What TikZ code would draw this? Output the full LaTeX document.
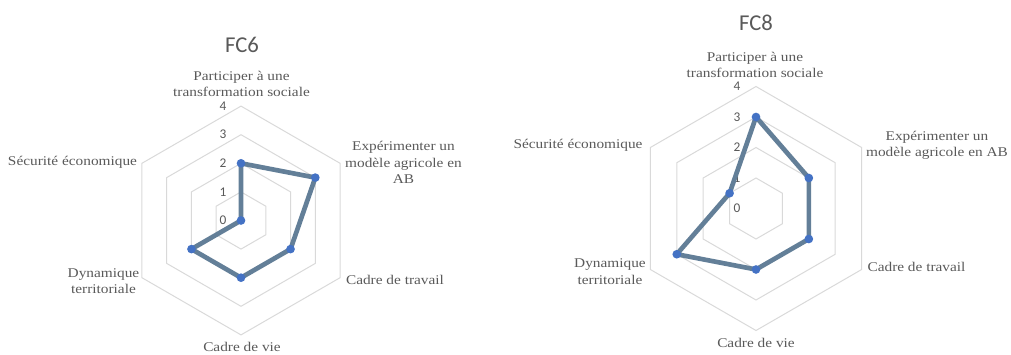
\documentclass[tikz,border=0pt]{standalone}
\usepackage{fontspec}
\setmainfont{Liberation Serif}
\newfontfamily\labfont[FakeStretch=1.15]{Liberation Serif}
\newfontfamily\numfont{Carlito}
\usetikzlibrary{positioning}

\definecolor{gridgray}{HTML}{D9D9D9}
\definecolor{labgray}{HTML}{595959}
\definecolor{seriesline}{HTML}{637F98}
\definecolor{dotblue}{HTML}{4472C4}

\tikzset{
  grid/.style={draw=gridgray, line width=0.75pt},
  serie/.style={draw=seriesline, line width=3.5pt, line join=round},
  dot/.style={circle, fill=dotblue, inner sep=0pt, minimum size=6.5pt},
  axislab/.style={font=\labfont\fontsize{10}{12.4}\selectfont, text=labgray, align=center, inner sep=0pt},
  scalelab/.style={font=\numfont\fontsize{10}{12}\selectfont, text=labgray, inner sep=0pt},
  charttitle/.style={font=\numfont\fontsize{17}{20}\selectfont, text=labgray, inner sep=0pt}
}

\begin{document}
\begin{tikzpicture}[x=0.75pt,y=0.75pt]
\useasboundingbox (0,0) rectangle (1011,354);

% FC6
\begin{scope}[shift={(241,133.5)}]
\foreach \r in {1,...,4}
  \draw[grid] (90:{28.6*\r}) -- (30:{28.6*\r}) -- (-30:{28.6*\r}) -- (-90:{28.6*\r})
    -- (-150:{28.6*\r}) -- (150:{28.6*\r}) -- cycle;
\foreach \r in {0,...,4}
  \node[scalelab] (s6\r) at (-18,{28.6*\r}) {\r};
\foreach \a/\v [count=\i] in {90/2,30/3,-30/2,-90/2,-150/2,150/0}
  \coordinate (p6\i) at (\a:{28.6*\v});
\draw[serie] (p61) -- (p62) -- (p63) -- (p64) -- (p65) -- (p66) -- cycle;
\foreach \i in {1,...,6}
  \node[dot] (d6\i) at (p6\i) {};
\end{scope}
\node[charttitle] (t6) at (242,309.5) {FC6};
\node[axislab] (a61) at (241.5,270) {Participer à une\\transformation sociale};
\node[axislab] (a62) at (403.5,191.5) {Expérimenter un\\modèle agricole en\\AB};
\node[axislab] (a63) at (395,74) {Cadre de travail};
\node[axislab] (a64) at (242,7) {Cadre de vie};
\node[axislab] (a65) at (103.5,73) {Dynamique\\territoriale};
\node[axislab] (a66) at (72.5,192) {Sécurité économique};

% FC8
\begin{scope}[shift={(756,145.5)}]
\foreach \r in {1,...,4}
  \draw[grid] (90:{30.5*\r}) -- (30:{30.5*\r}) -- (-30:{30.5*\r}) -- (-90:{30.5*\r})
    -- (-150:{30.5*\r}) -- (150:{30.5*\r}) -- cycle;
\foreach \r in {0,...,4}
  \node[scalelab] (s8\r) at (-19,{30.5*\r}) {\r};
\foreach \a/\v [count=\i] in {90/3,30/2,-30/2,-90/2,-150/3,150/1}
  \coordinate (p8\i) at (\a:{30.5*\v});
\draw[serie] (p81) -- (p82) -- (p83) -- (p84) -- (p85) -- (p86) -- cycle;
\foreach \i in {1,...,6}
  \node[dot] (d8\i) at (p8\i) {};
\end{scope}
\node[charttitle] (t8) at (756,331) {FC8};
\node[axislab] (a81) at (755,289) {Participer à une\\transformation sociale};
\node[axislab] (a82) at (937,208.5) {Expérimenter un\\modèle agricole en AB};
\node[axislab] (a83) at (916.5,87) {Cadre de travail};
\node[axislab] (a84) at (756,11) {Cadre de vie};
\node[axislab] (a85) at (610,82.5) {Dynamique\\territoriale};
\node[axislab] (a86) at (578,209) {Sécurité économique};
\end{tikzpicture}
\end{document}
